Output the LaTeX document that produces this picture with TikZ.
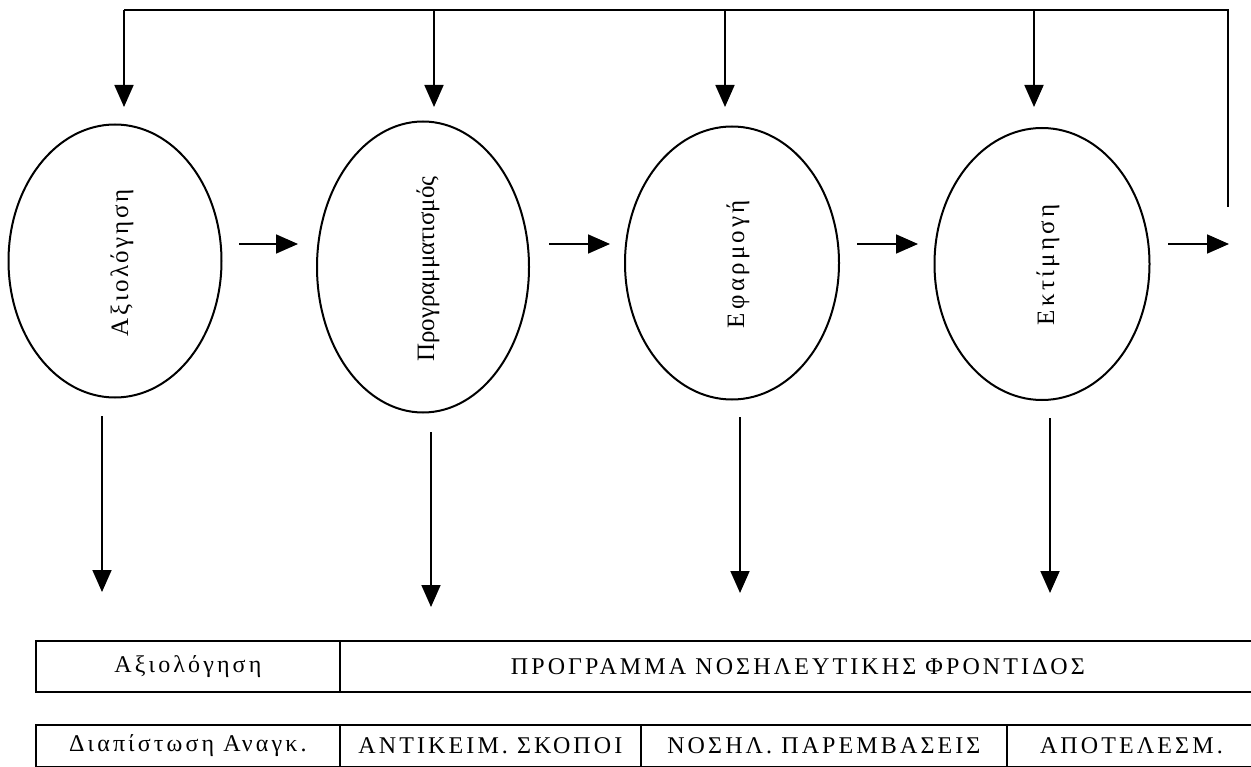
\documentclass[tikz,border=0pt]{standalone}
\usepackage{fontspec}
\setmainfont{Liberation Serif}
\newfontfamily\lsfont[LetterSpace=13]{Liberation Serif}
\newfontfamily\lsfonta[LetterSpace=10]{Liberation Serif}
\newfontfamily\lsfontc[LetterSpace=13]{Liberation Serif}
\usetikzlibrary{arrows.meta,shapes.geometric}
\begin{document}
\begin{tikzpicture}[x=1pt,y=-1pt,
  line/.style={line width=1.8pt},
  arr/.style={line width=1.8pt,-{Triangle[length=22pt,width=19pt]}},
  ell/.style={ellipse,draw,line width=2pt,inner sep=0pt},
  etext/.style={rotate=90,font=\fontsize{25}{28}\selectfont#1},
  cell/.style={rectangle,draw,line width=1.8pt,anchor=north west,inner sep=0pt,font=\fontsize{24}{28}\selectfont\lsfont}]
\useasboundingbox (0,0) rectangle (1251,767);
% ellipses
\node[ell,minimum width=213pt,minimum height=273pt] (e1) at (115,261) {};
\node[ell,minimum width=212pt,minimum height=291pt] (e2) at (423,267) {};
\node[ell,minimum width=214pt,minimum height=273pt] (e3) at (732,263) {};
\node[ell,minimum width=215pt,minimum height=272pt] (e4) at (1042,264) {};
\node[etext=\lsfonta] (l1) at (122,263) {Αξιολόγηση};
\node[etext=\rmfamily] (l2) at (428,269) {Προγραμματισμός};
\node[etext=\lsfontc] (l3) at (738,264) {Εφαρμογή};
\node[etext=\lsfontc] (l4) at (1048,265) {Εκτίμηση};
% feedback loop
\coordinate (fb) at (1228,207);
\coordinate (fc) at (1228,10);
\coordinate (t1) at (124,10);
\coordinate (t2) at (434,10);
\coordinate (t3) at (725,10);
\coordinate (t4) at (1034,10);
\coordinate (d1) at (124,107);
\coordinate (d2) at (434,107);
\coordinate (d3) at (725,107);
\coordinate (d4) at (1034,107);
\draw[line] (fb) -- (fc) -- (t1);
\draw[arr] (t1) -- (d1);
\draw[arr] (t2) -- (d2);
\draw[arr] (t3) -- (d3);
\draw[arr] (t4) -- (d4);
% horizontal arrows
\coordinate (h1a) at (239,244); \coordinate (h1b) at (298,244);
\coordinate (h2a) at (549,244); \coordinate (h2b) at (610,244);
\coordinate (h3a) at (857,244); \coordinate (h3b) at (918,244);
\coordinate (h4a) at (1168,244); \coordinate (h4b) at (1229,244);
\draw[arr] (h1a) -- (h1b);
\draw[arr] (h2a) -- (h2b);
\draw[arr] (h3a) -- (h3b);
\draw[arr] (h4a) -- (h4b);
% down arrows
\coordinate (v1a) at (102,416); \coordinate (v1b) at (102,592);
\coordinate (v2a) at (431,432); \coordinate (v2b) at (431,607);
\coordinate (v3a) at (740,417); \coordinate (v3b) at (740,593);
\coordinate (v4a) at (1050,418); \coordinate (v4b) at (1050,593);
\draw[arr] (v1a) -- (v1b);
\draw[arr] (v2a) -- (v2b);
\draw[arr] (v3a) -- (v3b);
\draw[arr] (v4a) -- (v4b);
% table
\node[cell,minimum width=304pt,minimum height=51pt] (a1) at (35,640) {Αξιολόγηση};
\node[cell,minimum width=916pt,minimum height=51pt] (a2) at (339,640) {ΠΡΟΓΡΑΜΜΑ ΝΟΣΗΛΕΥΤΙΚΗΣ ΦΡΟΝΤΙΔΟΣ};
\node[cell,minimum width=304pt,minimum height=42pt] (b1) at (35,724) {Διαπίστωση Αναγκ.\hspace{18pt}};
\node[cell,minimum width=301pt,minimum height=42pt] (b2) at (339,724) {ΑΝΤΙΚΕΙΜ. ΣΚΟΠΟΙ};
\node[cell,minimum width=366pt,minimum height=42pt] (b3) at (640,724) {ΝΟΣΗΛ. ΠΑΡΕΜΒΑΣΕΙΣ};
\node[cell,minimum width=249pt,minimum height=42pt] (b4) at (1006,724) {ΑΠΟΤΕΛΕΣΜ.};
\end{tikzpicture}
\end{document}
